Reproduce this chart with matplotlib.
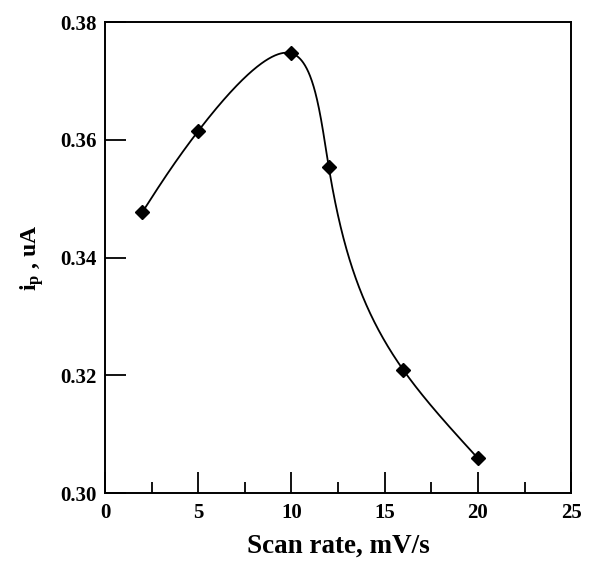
import numpy as np
import matplotlib.pyplot as plt
from matplotlib.ticker import MultipleLocator

plt.rcParams.update(
    {
        "font.family": "serif",
        "font.serif": ["Liberation Serif", "DejaVu Serif"],
        "font.weight": "bold",
        "mathtext.fontset": "custom",
        "mathtext.rm": "Liberation Serif:bold",
        "mathtext.bf": "Liberation Serif:bold",
        "mathtext.it": "Liberation Serif:bold",
    }
)

scan_rate = [2, 5, 10, 12, 16, 20]
peak_current = [0.3477, 0.3615, 0.3747, 0.3554, 0.3209, 0.3059]


def natural_coeffs(t, v):
    k = len(t)
    h = np.diff(t)
    A = np.zeros((k, k))
    b = np.zeros(k)
    A[0, 0] = A[-1, -1] = 1.0
    for i in range(1, k - 1):
        A[i, i - 1] = h[i - 1]
        A[i, i] = 2 * (h[i - 1] + h[i])
        A[i, i + 1] = h[i]
        b[i] = 6 * ((v[i + 1] - v[i]) / h[i] - (v[i] - v[i - 1]) / h[i - 1])
    return np.linalg.solve(A, b)


def eval_spline(t, v, M, ts):
    idx = np.clip(np.searchsorted(t, ts) - 1, 0, len(t) - 2)
    t0, t1 = t[idx], t[idx + 1]
    hh = t1 - t0
    a = (t1 - ts) / hh
    c = (ts - t0) / hh
    return (a * v[idx] + c * v[idx + 1]
            + ((a**3 - a) * M[idx] + (c**3 - c) * M[idx + 1]) * hh**2 / 6)


def smooth_curve(ax, x, y, n=600):
    # parametric cubic spline built in screen space, chord-length parameter
    pts = ax.transData.transform(np.column_stack([x, y]))
    t = np.concatenate([[0], np.cumsum(np.hypot(*np.diff(pts, axis=0).T))])
    ts = np.linspace(0, t[-1], n)
    px = eval_spline(t, pts[:, 0], natural_coeffs(t, pts[:, 0]), ts)
    py = eval_spline(t, pts[:, 1], natural_coeffs(t, pts[:, 1]), ts)
    out = ax.transData.inverted().transform(np.column_stack([px, py]))
    return out[:, 0], out[:, 1]


fig = plt.figure(figsize=(5.9, 5.67), dpi=100)
ax = fig.add_axes([0.178, 0.1305, 0.79, 0.8305])
ax.set_xlim(0, 25)
ax.set_ylim(0.30, 0.38)

xs, ys = smooth_curve(ax, scan_rate, peak_current)
ax.plot(xs, ys, color="black", lw=1.3)
ax.plot(scan_rate, peak_current, "D", color="black", ms=7.5)

ax.xaxis.set_major_locator(MultipleLocator(5))
ax.xaxis.set_minor_locator(MultipleLocator(2.5))
ax.yaxis.set_major_locator(MultipleLocator(0.02))
ax.yaxis.set_major_formatter(lambda v, p: f"{v:.2f}")
ax.tick_params(which="both", direction="in", top=False, right=False,
               labelsize=15, width=1.3)
ax.tick_params(axis="x", pad=7)
ax.tick_params(axis="y", pad=6)
ax.tick_params(which="major", length=15)
ax.tick_params(which="minor", length=8)
for s in ax.spines.values():
    s.set_linewidth(1.4)

ax.set_xlabel("Scan rate, mV/s", fontsize=19.5, fontweight="bold", labelpad=8)
ax.set_ylabel(r"i$_\mathrm{p}$ , uA", fontsize=17, fontweight="bold", labelpad=10)

fig.savefig("out.png", dpi=100)
